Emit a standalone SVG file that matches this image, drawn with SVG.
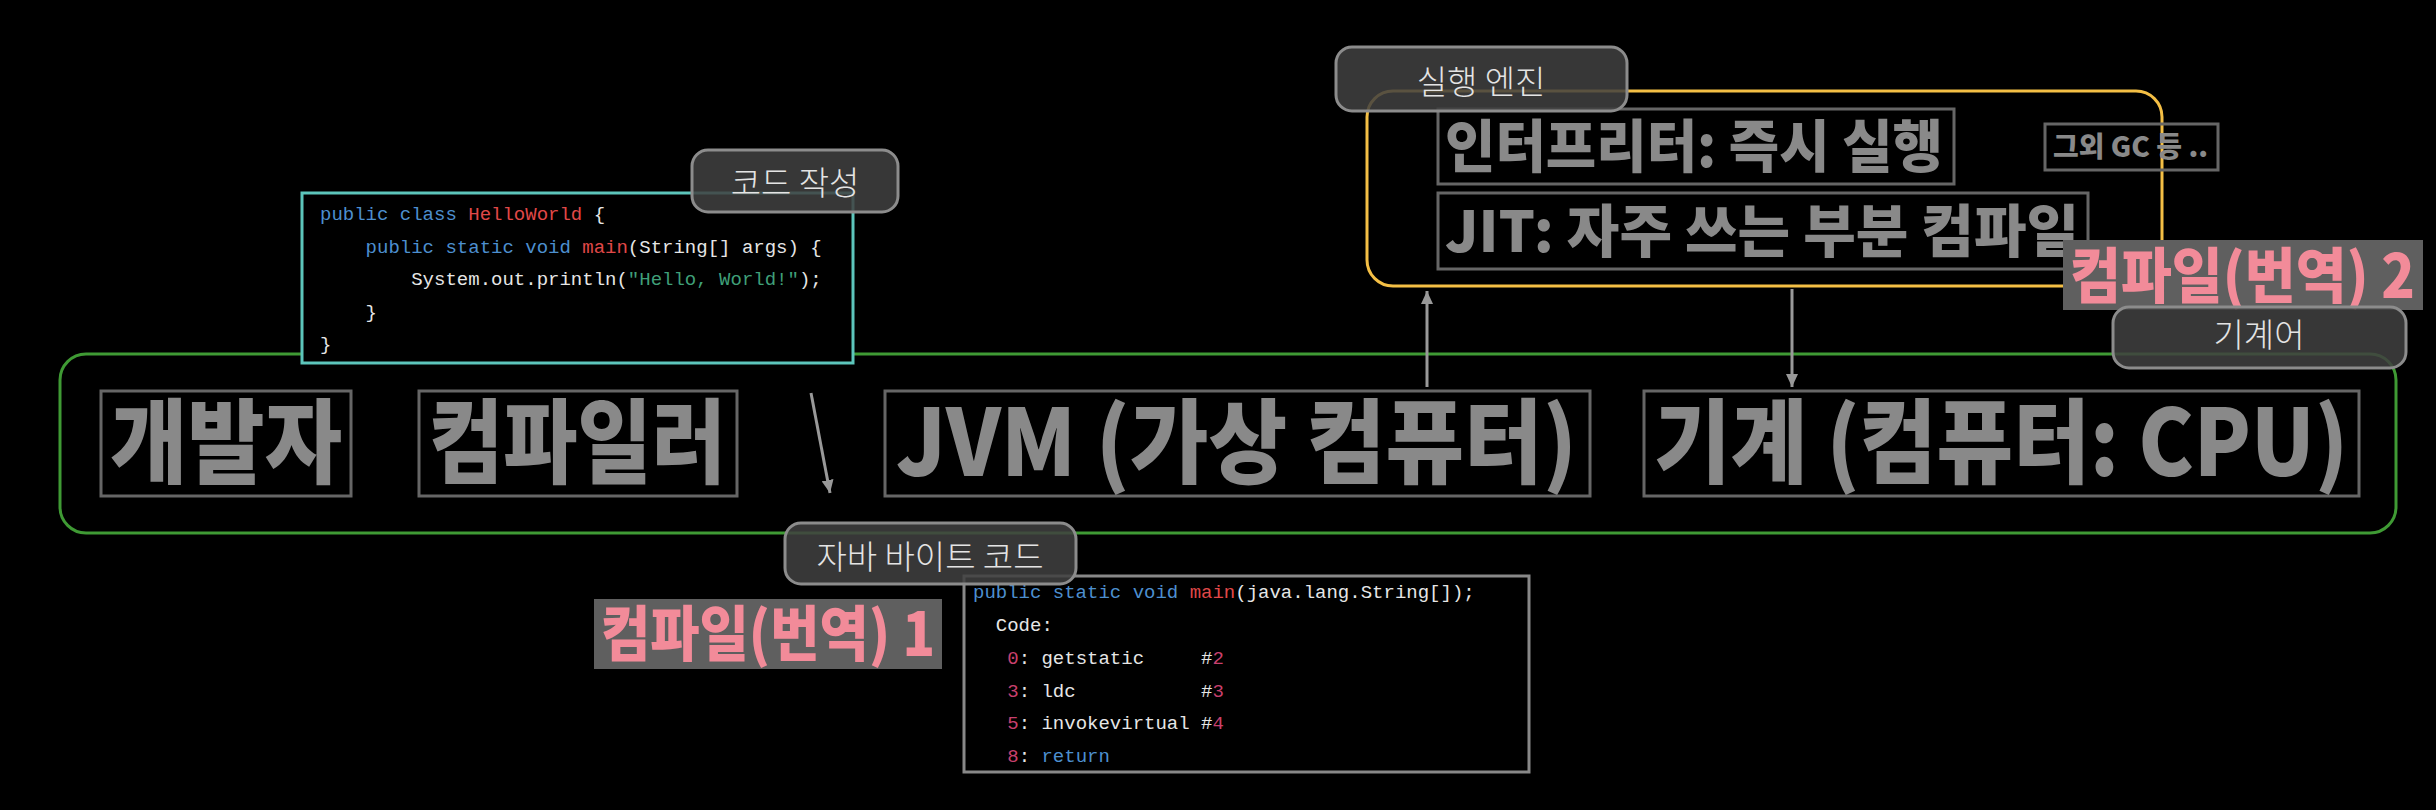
<svg xmlns="http://www.w3.org/2000/svg" width="2436" height="810" viewBox="0 0 2436 810">
<defs>
<marker id="ah" viewBox="0 0 13 12" refX="13" refY="6" markerWidth="13" markerHeight="12" markerUnits="userSpaceOnUse" orient="auto">
<path d="M0,0 L13,6 L0,12 Z" fill="#999"/>
</marker>
<style>
.box{fill:none;stroke:#666;stroke-width:3}
.big{font-family:"Noto Sans CJK KR","Noto Sans",sans-serif;font-weight:900;fill:#898989}
.lbl rect{fill:#404040;fill-opacity:0.86;stroke:#8c8c8c;stroke-width:3}
.lbl text{font-family:"Noto Sans CJK KR",sans-serif;font-weight:300;font-size:33px;fill:#e4e4e4;text-anchor:middle}
.code{font-family:"Liberation Mono","DejaVu Sans Mono",monospace;font-size:19px;fill:#e6e6e6;white-space:pre}
.kw{fill:#4d8fcf}
.rd{fill:#e04848}
.st{fill:#3f9f78}
.nm{fill:#c8406e}
.cmp rect{fill:#5f5f5f}
.cmp text{font-family:"Noto Sans CJK KR",sans-serif;font-weight:900;font-size:60px;fill:#f28b99}
.conn{stroke:#999;stroke-width:3;fill:none}
</style>
</defs>
<rect width="2436" height="810" fill="#000"/>

<g id="jvm-frame">
<rect x="60" y="354" width="2336" height="179" rx="26" fill="none" stroke="#3f9a34" stroke-width="3"/>
</g>

<g id="developer">
<rect class="box" x="101" y="391" width="250" height="105"/>
<text class="big" x="110" y="476" font-size="92" textLength="232" lengthAdjust="spacingAndGlyphs">개발자</text>
</g>

<g id="compiler">
<rect class="box" x="419" y="391" width="318" height="105"/>
<text class="big" x="429" y="476" font-size="92" textLength="297" lengthAdjust="spacingAndGlyphs">컴파일러</text>
</g>

<g id="jvm">
<rect class="box" x="885" y="391" width="705" height="105"/>
<text class="big" x="896" y="476" font-size="92" textLength="681" lengthAdjust="spacingAndGlyphs">JVM (가상 컴퓨터)</text>
</g>

<g id="machine">
<rect class="box" x="1644" y="391" width="715" height="105"/>
<text class="big" x="1654" y="476" font-size="92" textLength="694" lengthAdjust="spacingAndGlyphs">기계 (컴퓨터: CPU)</text>
</g>

<g id="source-code">
<rect x="302" y="193" width="551" height="170" fill="#000" stroke="#5cc5bb" stroke-width="3"/>
<text class="code" xml:space="preserve" x="320" y="220"><tspan class="kw">public class </tspan><tspan class="rd">HelloWorld</tspan> {</text>
<text class="code" xml:space="preserve" x="320" y="252.5">    <tspan class="kw">public static void </tspan><tspan class="rd">main</tspan>(String[] args) {</text>
<text class="code" xml:space="preserve" x="320" y="285">        System.out.println(<tspan class="st">"Hello, World!"</tspan>);</text>
<text class="code" xml:space="preserve" x="320" y="317.5">    }</text>
<text class="code" xml:space="preserve" x="320" y="350">}</text>
</g>

<g id="label-code-write" class="lbl">
<rect x="692" y="150" width="206" height="62" rx="16"/>
<text x="795" y="195">코드 작성</text>
</g>

<g id="exec-engine">
<rect x="1367" y="91" width="795" height="195" rx="26" fill="none" stroke="#f4bf45" stroke-width="3"/>
</g>

<g id="interpreter">
<rect class="box" x="1438" y="109" width="516" height="75"/>
<text class="big" x="1445" y="167" font-size="57" textLength="498" lengthAdjust="spacingAndGlyphs">인터프리터: 즉시 실행</text>
</g>

<g id="jit">
<rect class="box" x="1438" y="193" width="650" height="76"/>
<text class="big" x="1445" y="252" font-size="57" textLength="634" lengthAdjust="spacingAndGlyphs">JIT: 자주 쓰는 부분 컴파일</text>
</g>

<g id="gc">
<rect class="box" x="2045" y="124" width="173" height="46"/>
<text class="big" x="2053" y="157" font-size="28" textLength="155" lengthAdjust="spacingAndGlyphs">그외 GC 등 ..</text>
</g>

<g id="label-exec-engine" class="lbl">
<rect x="1336" y="47" width="291" height="64" rx="16"/>
<text x="1481" y="94">실행 엔진</text>
</g>

<g id="compile-2" class="cmp">
<rect x="2063" y="240" width="360" height="70"/>
<text x="2070" y="298" textLength="345" lengthAdjust="spacingAndGlyphs">컴파일(번역) 2</text>
</g>

<g id="label-machine-code" class="lbl">
<rect x="2113" y="307" width="293" height="61" rx="16"/>
<text x="2259" y="347">기계어</text>
</g>

<g id="bytecode">
<rect x="964" y="576" width="565" height="196" fill="#000" stroke="#888" stroke-width="3"/>
<text class="code" xml:space="preserve" x="973" y="598"><tspan class="kw">public static void </tspan><tspan class="rd">main</tspan>(java.lang.String[]);</text>
<text class="code" xml:space="preserve" x="973" y="631">  Code:</text>
<text class="code" xml:space="preserve" x="973" y="664">   <tspan class="nm">0</tspan>: getstatic     #<tspan class="nm">2</tspan></text>
<text class="code" xml:space="preserve" x="973" y="697">   <tspan class="nm">3</tspan>: ldc           #<tspan class="nm">3</tspan></text>
<text class="code" xml:space="preserve" x="973" y="729">   <tspan class="nm">5</tspan>: invokevirtual #<tspan class="nm">4</tspan></text>
<text class="code" xml:space="preserve" x="973" y="762">   <tspan class="nm">8</tspan>: <tspan class="kw">return</tspan></text>
</g>

<g id="label-bytecode" class="lbl">
<rect x="785" y="523" width="291" height="61" rx="16"/>
<text x="930" y="569">자바 바이트 코드</text>
</g>

<g id="compile-1" class="cmp">
<rect x="594" y="599" width="348" height="70"/>
<text x="601" y="656" textLength="334" lengthAdjust="spacingAndGlyphs">컴파일(번역) 1</text>
</g>

<g id="connectors">
<line class="conn" x1="811" y1="393" x2="830" y2="493" marker-end="url(#ah)"/>
<line class="conn" x1="1427" y1="387" x2="1427" y2="291" marker-end="url(#ah)"/>
<line class="conn" x1="1792" y1="289" x2="1792" y2="387" marker-end="url(#ah)"/>
</g>
</svg>
